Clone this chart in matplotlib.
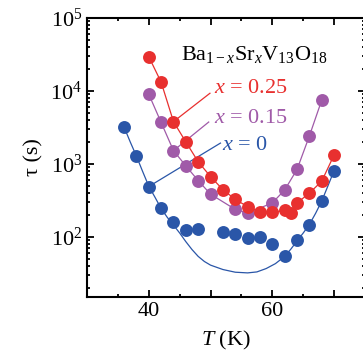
import matplotlib
matplotlib.use('Agg')
import matplotlib.pyplot as plt
from matplotlib.ticker import MultipleLocator, FixedLocator, FixedFormatter, LogLocator, NullFormatter

plt.rcParams['font.family'] = ['Liberation Serif', 'DejaVu Serif']
plt.rcParams['mathtext.fontset'] = 'custom'
plt.rcParams['mathtext.rm'] = 'Liberation Serif'
plt.rcParams['mathtext.it'] = 'Liberation Serif:italic'

# data
blue_T = [36, 38, 40, 42, 44, 46, 48, 52, 54, 56, 58, 60, 62, 64, 66, 68, 70]
blue_tau = [3160, 1290, 490, 246, 158, 126, 129, 117, 111, 98, 100, 81, 54.5, 92, 144, 313, 810]

fit_T = [36, 37, 38, 39, 40, 41, 42, 43, 44, 45, 46, 47, 48, 49, 50, 52, 54, 56, 57.5, 59,
         60.5, 62, 63, 64, 65, 66, 67, 68, 69, 70]
fit_tau = [3200, 2000, 1280, 790, 495, 350, 245, 185, 145, 113, 86, 67, 54, 46, 41, 35.7, 32.8,
           32.1, 33.1, 36.8, 43, 54, 68, 88, 113, 148, 210, 310, 500, 810]

purple_T = [40, 42, 44, 46, 48, 50, 54, 56, 60, 62, 64, 66, 68]
purple_tau = [9030, 3700, 1520, 940, 590, 385, 238, 212, 292, 440, 840, 2420, 7500]

red_T = [40, 42, 44, 46, 48, 50, 52, 54, 56, 58, 60, 62, 63, 64, 66, 68, 70]
red_tau = [29500, 13200, 3800, 2000, 1070, 670, 444, 326, 260, 220, 218, 230, 214, 292,
           398, 580, 1330]

c_blue = '#2a56a8'
c_purple = '#a05aa8'
c_red = '#e8302f'

fig = plt.figure(figsize=(3.63, 3.62), dpi=100)
ax = fig.add_axes([87 / 363, 65 / 362, 278 / 363, 279 / 362])

# fit curve + points
ax.plot(fit_T, fit_tau, '-', color=c_blue, lw=0.9, zorder=2)
ax.plot(blue_T, blue_tau, 'o', color=c_blue, ms=9.3, mew=0, zorder=3)
ax.plot(purple_T, purple_tau, 'o-', color=c_purple, ms=9.3, mew=0, lw=0.9, zorder=3)
ax.plot(red_T, red_tau, 'o-', color=c_red, ms=9.3, mew=0, lw=0.9, zorder=4)

# leader lines
ax.plot([40, 51.6], [490, 1930], '-', color=c_blue, lw=0.9, zorder=2)
ax.plot([44, 49.7], [1520, 3750], '-', color=c_purple, lw=0.9, zorder=2)
ax.plot([44, 49.9], [3800, 9300], '-', color=c_red, lw=0.9, zorder=3)

ax.text(45.2, 26600, r'Ba$_{1-x}$Sr$_x$V$_{13}$O$_{18}$', fontsize=16, va='baseline', ha='left')
ax.text(50.6, 9350, r'$x$ = 0.25', color=c_red, fontsize=16, va='baseline', ha='left')
ax.text(50.6, 3610, r'$x$ = 0.15', color=c_purple, fontsize=16, va='baseline', ha='left')
ax.text(51.8, 1530, r'$x$ = 0', color=c_blue, fontsize=16, va='baseline', ha='left')

ax.set_yscale('log')
ax.set_xlim(30, 75)
ax.set_ylim(15, 1e5)

ax.xaxis.set_major_locator(FixedLocator([30, 40, 50, 60, 70]))
ax.xaxis.set_major_formatter(FixedFormatter(['', '40', '', '60', '']))
ax.xaxis.set_minor_locator(MultipleLocator(5))
ax.yaxis.set_major_locator(LogLocator(base=10, numticks=10))
ax.yaxis.set_minor_locator(LogLocator(base=10, subs=range(2, 10), numticks=20))
ax.yaxis.set_minor_formatter(NullFormatter())

ax.tick_params(which='both', direction='in', top=True, right=True, width=1.3, labelsize=16)
ax.tick_params(which='major', length=5)
ax.tick_params(which='minor', length=2.5)
for s in ax.spines.values():
    s.set_linewidth(1.5)

ax.set_xlabel('$T$ (K)', fontsize=16, labelpad=6)
ax.set_ylabel('τ (s)', fontsize=16, labelpad=5)

fig.savefig('out.png', dpi=100)
